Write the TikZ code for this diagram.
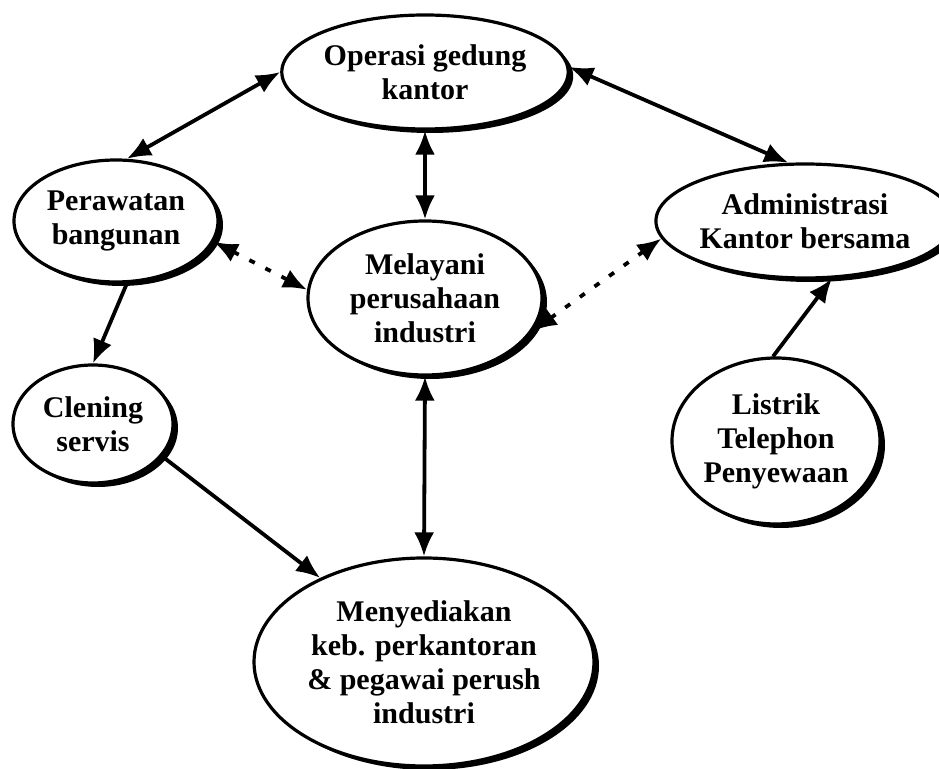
\documentclass[tikz,border=0pt]{standalone}
\usepackage{fontspec}
\setmainfont{Liberation Serif}
\usetikzlibrary{arrows.meta, shapes.geometric, shadows}

\begin{document}
\begin{tikzpicture}[x=0.5pt, y=-0.5pt, >={Latex[length=12pt,width=10pt]},
        main/.style = {draw, ellipse, line width=1.6pt, fill=white, inner sep=0pt, align=center,
            font=\bfseries\fontsize{15}{17}\selectfont,
            drop shadow={fill=black, opacity=1, shadow xshift=2.5pt, shadow yshift=-2pt}},
        link/.style = {line width=1.9pt}]
            \useasboundingbox (0,0) rectangle (939,769);

            \node[main, minimum width=140pt, minimum height=57pt] (op) at (425,72) {Operasi gedung\\kantor};
            \node[main, minimum width=102pt, minimum height=61pt] (pw) at (116,221) {Perawatan\\bangunan};
            \node[main, minimum width=117pt, minimum height=77pt] (ml) at (425,298) {Melayani\\perusahaan\\industri};
            \node[main, minimum width=128pt, minimum height=57pt] (ad) at (805,221) {Administrasi\\Kantor bersama};
            \node[main, minimum width=80pt, minimum height=59pt] (cl) at (93,424) {Clening\\servis};
            \node[main, minimum width=104pt, minimum height=83pt] (ls) at (776,441) {Listrik\\Telephon\\Penyewaan};
            \node[main, minimum width=170pt, minimum height=104pt] (mn) at (424,662) {Menyediakan\\keb. perkantoran\\\& pegawai perush\\industri};

            \path[<->, link] (op.180) edge (pw.80);
            \path[<->, link] (op.2) edge (ad.106);
            \path[<->, link] (op.south) edge (ml.north);

            \path[<->, link, dash pattern=on 3pt off 6pt] (pw.-12) edge (ml.176);
            \path[<->, link, dash pattern=on 3pt off 6pt] (ml.-17) edge (ad.187);

            \path[->, link] (pw.-80) edge (cl.90);
            \path[<->, link] (ml.south) edge (mn.north);
            \path[->, link] (cl.-25) edge (mn.141);
            \path[->, link] (ls.92) edge (ad.-65);
        \end{tikzpicture}
\end{document}
